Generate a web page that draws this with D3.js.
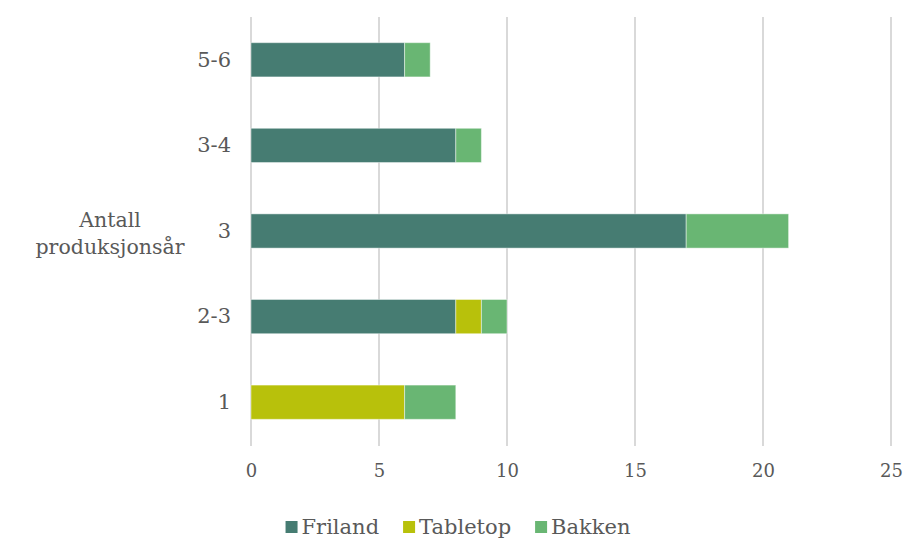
<!DOCTYPE html>
<html>
<head>
<meta charset="utf-8">
<script src="https://cdn.jsdelivr.net/npm/d3@7"></script>
<style>
  html, body { margin: 0; padding: 0; background: #fff; }
  svg { display: block; }
</style>
</head>
<body>
<svg id="chart" width="907" height="539"></svg>
<script>
// Production years per category (top to bottom)
const categories = ["5-6", "3-4", "3", "2-3", "1"];
const seriesNames = ["Friland", "Tabletop", "Bakken"];
const friland = [6, 8, 17, 8, 0];
const tabletop = [0, 0, 0, 1, 6];
const bakken = [1, 1, 4, 1, 2];
const xTicks = [0, 5, 10, 15, 20, 25];
const axisTitle = ["Antall", "produksjonsår"];
const colors = ["#467c72", "#b8c10b", "#69b673"];

const rows = categories.map((c, i) => ({
  cat: c, Friland: friland[i], Tabletop: tabletop[i], Bakken: bakken[i]
}));
const stacked = d3.stack().keys(seriesNames)(rows);

const FONT = "'DejaVu Serif', 'Liberation Serif', serif";
const TEXT = "#595959";

const svg = d3.select("#chart");
const x = d3.scaleLinear().domain([0, 25]).range([251, 891]);
const y = d3.scaleBand().domain(categories).range([17, 445])
  .paddingInner(0.6).paddingOuter(0.3);

// vertical gridlines
svg.append("g").selectAll("line").data(xTicks).join("line")
  .attr("x1", d => x(d)).attr("x2", d => x(d))
  .attr("y1", 17).attr("y2", 446)
  .attr("stroke", "#d9d9d9").attr("stroke-width", 2);

// stacked bars
svg.append("g").selectAll("g").data(stacked).join("g")
  .attr("fill", (d, i) => colors[i])
  .selectAll("rect").data(d => d.filter(s => s[1] > s[0])).join("rect")
  .attr("x", d => x(d[0]))
  .attr("y", d => y(d.data.cat))
  .attr("width", d => x(d[1]) - x(d[0]))
  .attr("height", y.bandwidth())
  .attr("stroke", "#ffffff").attr("stroke-opacity", 0.45).attr("stroke-width", 1);

// x axis tick labels
const xAxis = d3.axisBottom(x).tickValues(xTicks).tickSize(0).tickPadding(0);
const gx = svg.append("g").attr("transform", "translate(0,464)").call(xAxis);
gx.select(".domain").remove();
gx.selectAll("text").attr("font-family", FONT).attr("font-size", 18)
  .attr("fill", TEXT).attr("dy", "0.71em");

// y axis category labels
const yAxis = d3.axisLeft(y).tickSize(0).tickPadding(0);
const gy = svg.append("g").attr("transform", "translate(231,0)").call(yAxis);
gy.select(".domain").remove();
gy.selectAll("text").attr("font-family", FONT).attr("font-size", 21)
  .attr("fill", TEXT);

// axis title
svg.append("text")
  .attr("font-family", FONT).attr("font-size", 20.5).attr("fill", TEXT)
  .attr("text-anchor", "middle")
  .selectAll("tspan").data(axisTitle).join("tspan")
  .attr("x", 110).attr("y", (d, i) => 227 + i * 27).text(d => d);

// legend
const legend = svg.append("g").attr("transform", "translate(0,527)");
const items = legend.selectAll("g").data(seriesNames).join("g");
items.append("rect").attr("width", 12).attr("height", 12).attr("y", -6)
  .attr("fill", (d, i) => colors[i]);
items.append("text").attr("x", 16).attr("dy", "0.35em")
  .attr("font-family", FONT).attr("font-size", 21).attr("fill", TEXT)
  .text(d => d);
let widths = [];
items.each(function () { widths.push(16 + this.querySelector("text").getComputedTextLength()); });
const gap = 24;
const total = d3.sum(widths) + gap * (widths.length - 1);
let cx = 458 - total / 2;
items.attr("transform", (d, i) => {
  const t = `translate(${cx},0)`;
  cx += widths[i] + gap;
  return t;
});
</script>
</body>
</html>
